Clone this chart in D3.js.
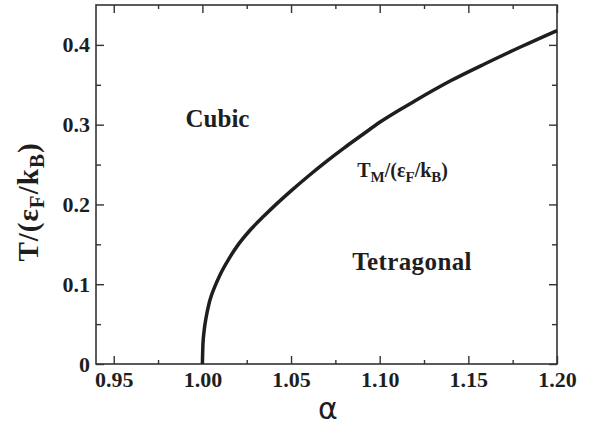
<!DOCTYPE html>
<html>
<head>
<meta charset="utf-8">
<script src="https://cdn.jsdelivr.net/npm/d3@7"></script>
<style>
body{margin:0;background:#fff}
svg{display:block}
.tk text{font-family:"Liberation Serif","Times New Roman",serif;font-weight:bold;font-size:22px;fill:#1e1e1e}
.tk line{stroke:#333;stroke-width:1.4}
</style>
</head>
<body>
<div class="canvas"></div>
<script>
// values
var alphaVals=[1.000,1.0003,1.001,1.002,1.004,1.007,1.010,1.015,1.020,1.027,1.035,1.042,1.050,1.060,1.070,1.080,1.090,1.100,1.120,1.140,1.160,1.180,1.200];
var tempVals =[0.000,0.024,0.042,0.057,0.078,0.097,0.112,0.132,0.149,0.168,0.186,0.201,0.217,0.236,0.254,0.271,0.287,0.303,0.330,0.355,0.377,0.398,0.418];

var xTicks=[0.95,1.00,1.05,1.10,1.15,1.20];
var xLabels=["0.95","1.00","1.05","1.10","1.15","1.20"];
var xMinor=[0.975,1.025,1.075,1.125,1.175];
var yTicks=[0,0.1,0.2,0.3,0.4];
var yLabels=["0","0.1","0.2","0.3","0.4"];
var yMinor=[0.05,0.15,0.25,0.35];

var W=595,H=426;
var margin={left:96,right:38,top:5,bottom:62};

const svg=d3.select(".canvas").append("svg")
     .attr("width",W)
     .attr("height",H);

var x=d3.scaleLinear().domain([0.94,1.20]).range([margin.left,W-margin.right]);
var y=d3.scaleLinear().domain([0,0.45]).range([H-margin.bottom,margin.top]);

var ink="#1e1e1e";
var serif='"Liberation Serif","Times New Roman",serif';

// frame
svg.append("rect")
     .attr("x",x(0.94)).attr("y",y(0.45))
     .attr("width",x(1.20)-x(0.94))
     .attr("height",y(0)-y(0.45))
     .attr("fill","none")
     .attr("stroke","#333")
     .attr("stroke-width",1.6);

function addAxis(gen,tx,ty){
     var g=svg.append("g").attr("class","tk")
          .attr("transform","translate("+tx+","+ty+")")
          .call(gen);
     g.attr("font-family",null).attr("font-size",null);
     g.select(".domain").remove();
     return g;
}

// major ticks with labels (bottom, left), pointing inward
addAxis(d3.axisBottom(x).tickValues(xTicks).tickFormat(function(d,i){return xLabels[i];})
          .tickSizeInner(-8).tickSizeOuter(0).tickPadding(7),0,y(0));
addAxis(d3.axisLeft(y).tickValues(yTicks).tickFormat(function(d,i){return yLabels[i];})
          .tickSizeInner(-8).tickSizeOuter(0).tickPadding(6),x(0.94),0);
// top and right, no labels
addAxis(d3.axisTop(x).tickValues(xTicks).tickFormat("").tickSizeInner(-8).tickSizeOuter(0),0,y(0.45));
addAxis(d3.axisRight(y).tickValues(yTicks).tickFormat("").tickSizeInner(-8).tickSizeOuter(0),x(1.20),0);
// minor ticks
addAxis(d3.axisBottom(x).tickValues(xMinor).tickFormat("").tickSizeInner(-4).tickSizeOuter(0),0,y(0));
addAxis(d3.axisTop(x).tickValues(xMinor).tickFormat("").tickSizeInner(-4).tickSizeOuter(0),0,y(0.45));
addAxis(d3.axisLeft(y).tickValues(yMinor).tickFormat("").tickSizeInner(-5).tickSizeOuter(0),x(0.94),0);
addAxis(d3.axisRight(y).tickValues(yMinor).tickFormat("").tickSizeInner(-5).tickSizeOuter(0),x(1.20),0);

// transition line
var pts=alphaVals.map(function(a,i){return [a,tempVals[i]];});
var line=d3.line()
     .x(function(d){return x(d[0]);})
     .y(function(d){return y(d[1]);})
     .curve(d3.curveMonotoneX);
svg.append("path")
     .datum(pts)
     .attr("d",line)
     .attr("fill","none")
     .attr("stroke",ink)
     .attr("stroke-width",3.5);

// region labels
svg.append("text").text("Cubic")
     .attr("x",x(0.9905)).attr("y",y(0.297))
     .attr("font-family",serif).attr("font-weight","bold")
     .attr("font-size",25).attr("fill",ink);
svg.append("text").text("Tetragonal")
     .attr("x",x(1.0845)).attr("y",y(0.118))
     .attr("font-family",serif).attr("font-weight","bold")
     .attr("font-size",25).attr("fill",ink)
     .attr("letter-spacing",0.4);

// T_M label
var tm=svg.append("text")
     .attr("x",x(1.0873)).attr("y",y(0.2345))
     .attr("font-family",serif).attr("font-weight","bold")
     .attr("font-size",20).attr("fill",ink);
tm.append("tspan").text("T");
tm.append("tspan").text("M").attr("font-size",15).attr("dy",5);
tm.append("tspan").text("/(ε").attr("dy",-5);
tm.append("tspan").text("F").attr("font-size",15).attr("dy",5);
tm.append("tspan").text("/k").attr("dy",-5);
tm.append("tspan").text("B").attr("font-size",15).attr("dy",5);
tm.append("tspan").text(")").attr("dy",-5);

// axis titles
var yl=svg.append("text")
     .attr("transform","translate(38,202) rotate(-90)")
     .attr("text-anchor","middle")
     .attr("font-family",serif).attr("font-weight","bold")
     .attr("font-size",29).attr("fill",ink)
     .attr("letter-spacing",1);
yl.append("tspan").text("T/(ε");
yl.append("tspan").text("F").attr("font-size",21).attr("dy",6);
yl.append("tspan").text("/k").attr("dy",-6);
yl.append("tspan").text("B").attr("font-size",21).attr("dy",6);
yl.append("tspan").text(")").attr("dy",-6);

svg.append("text").text("α")
     .attr("x",328).attr("y",419)
     .attr("text-anchor","middle")
     .attr("font-family",'"DejaVu Sans",sans-serif')
     .attr("font-size",30).attr("fill",ink);
</script>
</body>
</html>
